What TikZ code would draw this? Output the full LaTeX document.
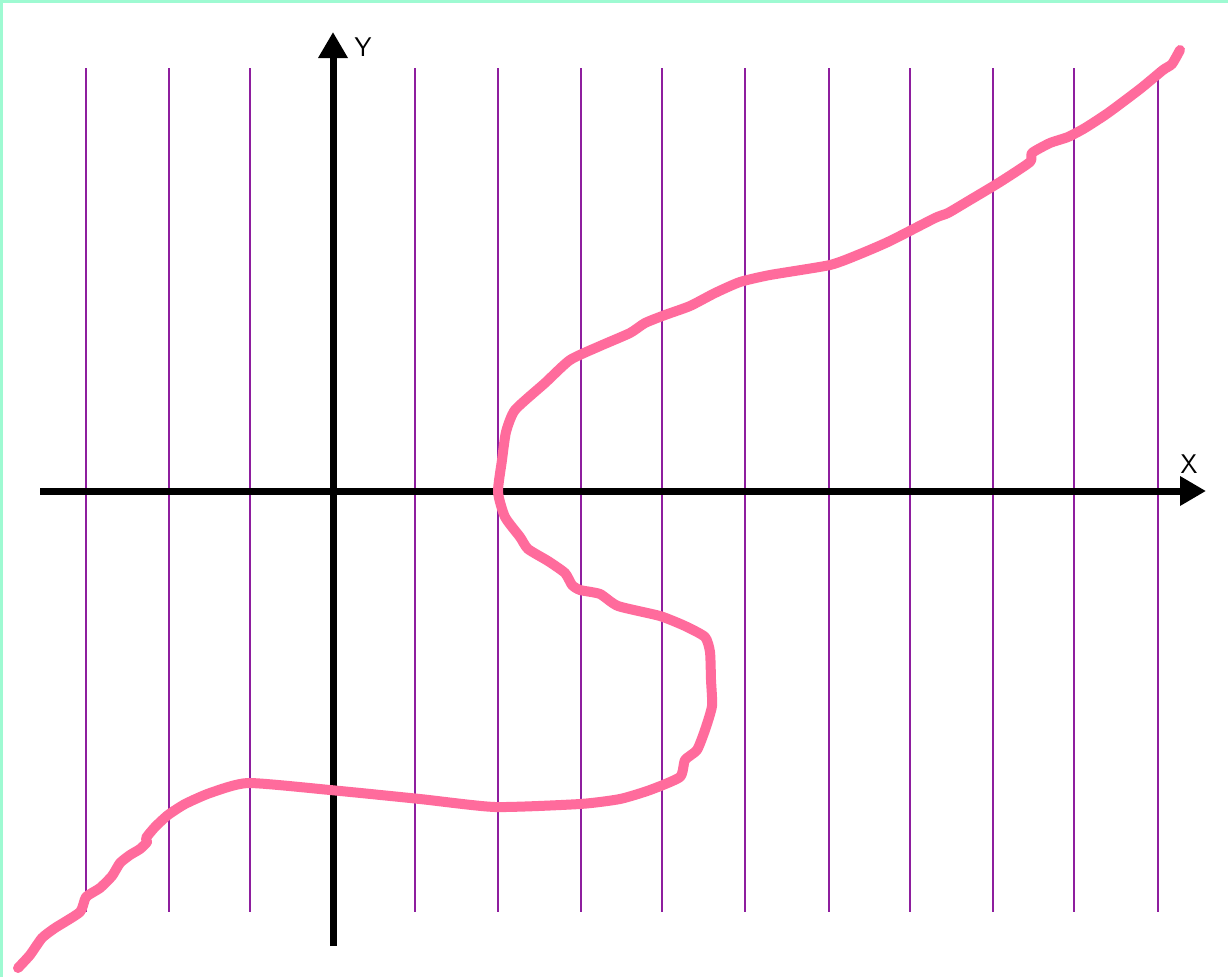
\documentclass[tikz,border=0pt]{standalone}
\usepackage{tikz}
\usetikzlibrary{arrows.meta, positioning}

\definecolor{mint}{HTML}{9EFAD2}
\definecolor{gridpurple}{HTML}{8E1E9E}
\definecolor{curvepink}{HTML}{FF6B9C}

\begin{document}
\begin{tikzpicture}[
      x=1pt, y=-1pt,
      axis/.style={line width=7pt, -{Triangle[length=26pt, width=28pt]}},
      gridline/.style={gridpurple, line width=2.6pt},
      curve/.style={curvepink, line width=10pt, line join=round, line cap=round},
      axislabel/.style={font=\sffamily\fontsize{27}{27}\selectfont, inner sep=0pt}
    ]
    \useasboundingbox (0,0) rectangle (1228,977);
    \fill[white] (0,0) rectangle (1228,977);
    \draw[mint, line width=3pt] (1.5,977) -- (1.5,1.5) -- (1228,1.5);

    % vertical lines
    \foreach \gx in {86,169,250,415,498,581,662,745,829,910,993,1074,1158}
      \draw[gridline] (\gx,68) -- (\gx,912);

    % axes
    \coordinate (xstart) at (40,491);
    \coordinate (xend) at (1206,491);
    \coordinate (ystart) at (333,946);
    \coordinate (yend) at (333,32);
    \draw[axis] (xstart) -- (xend);
    \draw[axis] (ystart) -- (yend);
    \node[axislabel] (ylab) at (363,47) {Y};
    \node[axislabel] (xlab) at (1189,464) {X};

    % the curve
    \draw[curve] plot[smooth, tension=0.35] coordinates {
      (18,968) (30,955) (42,938) (55,928) (80,912) (86,897) (100,888)
      (112,876) (120,863) (130,855) (140,849) (147,842) (146,838)
      (155,827) (168,815) (185,804) (210,793) (248,783) (330,790)
      (420,799) (495,807) (580,804) (620,799) (650,790) (680,777)
      (685,760) (697,750) (705,730) (712,706) (711,680) (710,652)
      (705,637) (685,626) (660,616) (618,606) (600,594) (580,590)
      (572,585) (565,573) (548,561) (528,549) (520,537) (505,517)
      (498,492) (502,460) (506,432) (515,410) (545,383) (570,360)
      (600,346) (630,333) (645,323) (665,315) (690,306) (715,293)
      (740,282) (770,275) (830,265) (860,254) (890,241) (935,218)
      (948,213) (970,200) (1000,182) (1030,162) (1032,153) (1050,143)
      (1068,137) (1085,128) (1108,113) (1140,89) (1163,70) (1172,64)
      (1180,50)};
  \end{tikzpicture}
\end{document}
